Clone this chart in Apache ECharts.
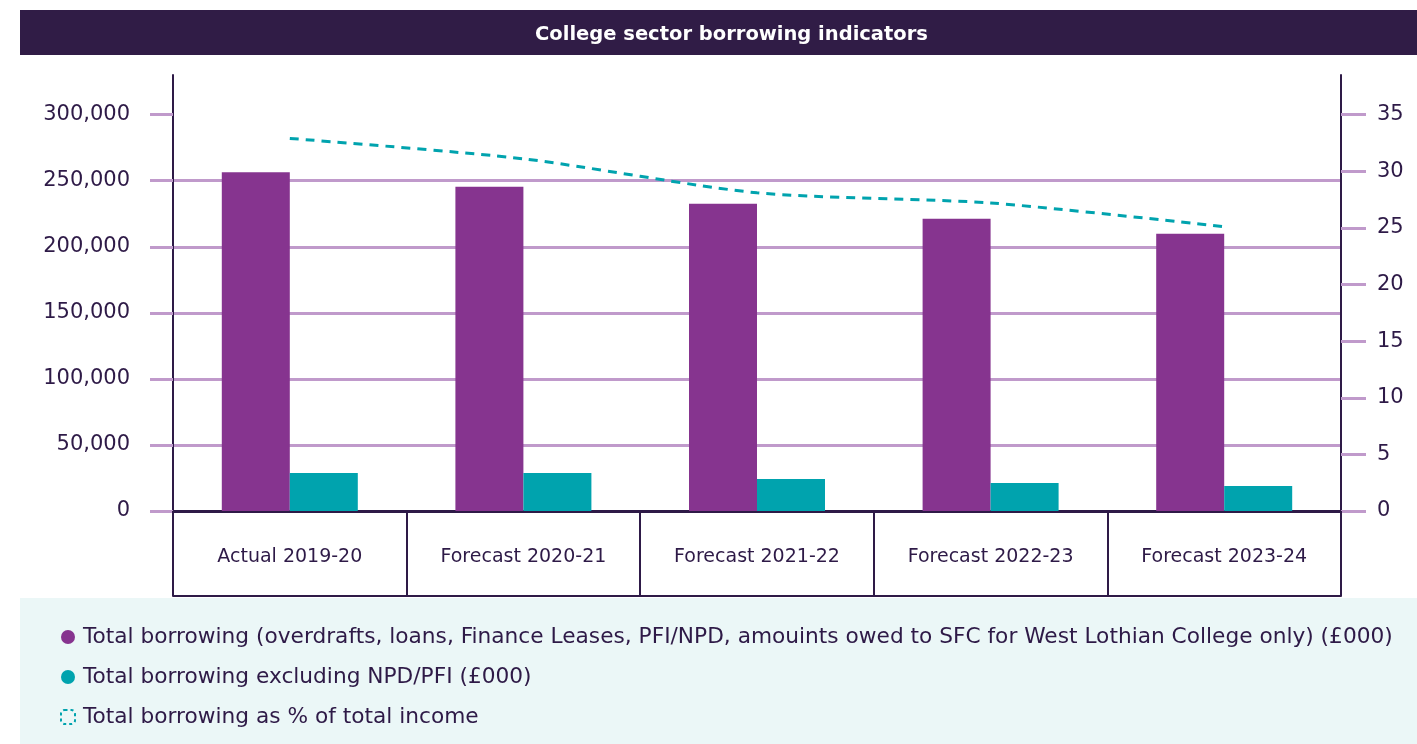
<!DOCTYPE html>
<html>
<head>
<meta charset="utf-8">
<script src="https://cdn.jsdelivr.net/npm/echarts@6.0.0/dist/echarts.min.js"></script>
<style>
  html, body { margin: 0; padding: 0; background: #fff; }
  #chart { width: 1417px; height: 744px; }
</style>
</head>
<body>
<div id="chart"></div>
<script>
// categories and values
const years = ['Actual 2019-20', 'Forecast 2020-21', 'Forecast 2021-22', 'Forecast 2022-23', 'Forecast 2023-24']
const totalBorrowing = [256300, 245400, 232600, 221200, 209800]
const borrowingExclPfi = [28800, 28800, 24200, 21200, 18900]
const pctOfIncome = [32.9, 31.1, 28.1, 27.2, 25.1]
const leftTicks = [0, 50000, 100000, 150000, 200000, 250000, 300000]
const rightTicks = [0, 5, 10, 15, 20, 25, 30, 35]

const names = [
  'Total borrowing (overdrafts, loans, Finance Leases, PFI/NPD, amouints owed to SFC for West Lothian College only) (£000)',
  'Total borrowing excluding NPD/PFI (£000)',
  'Total borrowing as % of total income'
]

const dark = '#2e1a47'
const grid = '#c09acb'
const purple = '#86348f'
const teal = '#00a3ae'
const font = 'DejaVu Sans'

const chart = echarts.init(document.getElementById('chart'))

const options = {
  animation: false,
  textStyle: { fontFamily: font },
  graphic: [
    // title band
    { type: 'rect', left: 20, top: 10, shape: { width: 1397, height: 45 }, style: { fill: '#301c46' }, z: -1 },
    // legend panel
    { type: 'rect', left: 20, top: 598, shape: { width: 1397, height: 146 }, style: { fill: '#ebf7f7' }, z: -1 }
  ],
  title: {
    text: 'College sector borrowing indicators',
    left: 530,
    top: 20,
    textStyle: { color: '#fff', fontSize: 19.5, fontWeight: 'bold', fontFamily: font }
  },
  legend: {
    orient: 'vertical',
    left: 55,
    top: 621,
    itemGap: 18,
    itemWidth: 14,
    itemHeight: 14,
    textStyle: { color: dark, fontSize: 21.7, fontFamily: font, padding: [0, 0, 0, 3] },
    data: [
      { name: names[0], icon: 'circle' },
      { name: names[1], icon: 'circle' },
      {
        name: names[2],
        icon: 'roundRect',
        itemStyle: { color: 'transparent', borderColor: teal, borderWidth: 2, borderType: [3, 3] }
      }
    ]
  },
  grid: { left: 173, right: 76, top: 75, bottom: 233 },
  xAxis: [{
    type: 'category',
    data: years,
    axisLine: { lineStyle: { color: dark, width: 3 } },
    axisTick: { show: true, length: 85, lineStyle: { color: dark, width: 2 } },
    axisLabel: { color: dark, fontSize: 19, margin: 37, fontFamily: font }
  }, {
    // bottom edge of the category boxes
    type: 'category',
    data: years,
    position: 'bottom',
    offset: 85,
    axisLine: { show: true, onZero: false, lineStyle: { color: dark, width: 2 } },
    axisTick: { show: false },
    axisLabel: { show: false }
  }],
  yAxis: [{
    type: 'value',
    min: 0,
    max: 330000,
    interval: 50000,
    axisLine: { show: true, lineStyle: { color: dark, width: 2 } },
    axisTick: { show: true, length: 23, customValues: leftTicks, lineStyle: { color: grid, width: 3 } },
    axisLabel: {
      customValues: leftTicks,
      color: dark,
      fontSize: 21,
      margin: 43,
      fontFamily: font,
      formatter: v => v.toLocaleString('en-GB')
    },
    splitLine: { show: true, showMaxLine: false, lineStyle: { color: grid, width: 3 } }
  }, {
    type: 'value',
    position: 'right',
    min: 0,
    max: 38.5,
    interval: 5,
    axisLine: { show: true, lineStyle: { color: dark, width: 2 } },
    axisTick: { show: true, length: 25, customValues: rightTicks, lineStyle: { color: grid, width: 3 } },
    axisLabel: { customValues: rightTicks, color: dark, fontSize: 21, margin: 36, fontFamily: font },
    splitLine: { show: false }
  }],
  series: [{
    name: names[0],
    type: 'bar',
    barWidth: 68,
    barGap: '0%',
    itemStyle: { color: purple },
    data: totalBorrowing
  }, {
    name: names[1],
    type: 'bar',
    barWidth: 68,
    barGap: '0%',
    itemStyle: { color: teal },
    data: borrowingExclPfi
  }, {
    name: names[2],
    type: 'line',
    yAxisIndex: 1,
    smooth: 0.25,
    showSymbol: false,
    itemStyle: { color: teal },
    lineStyle: { color: teal, width: 3, type: [9, 7] },
    data: pctOfIncome
  }]
}

chart.setOption(options)
</script>
</body>
</html>
